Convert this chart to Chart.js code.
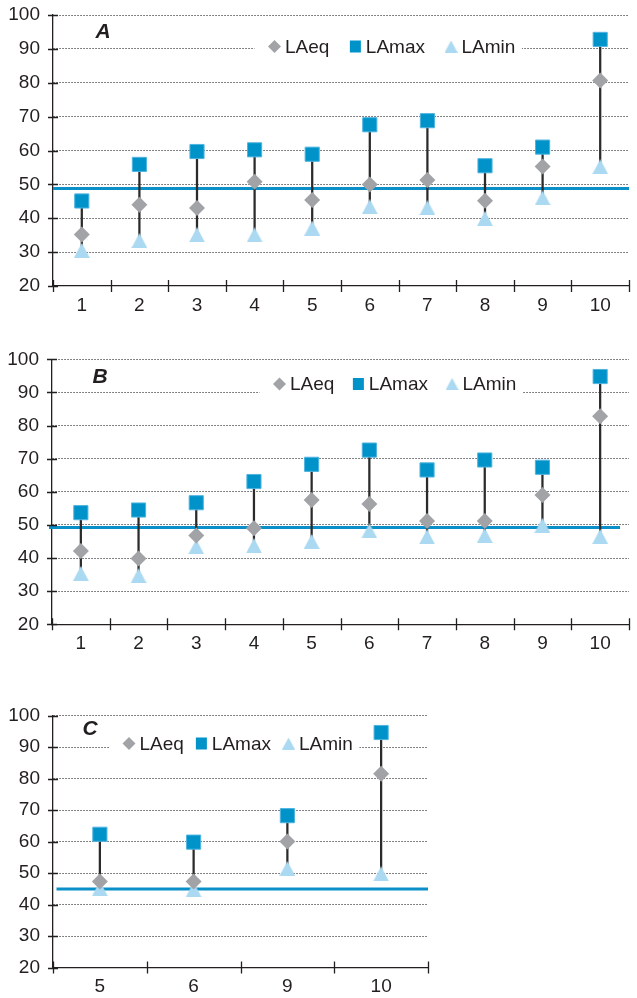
<!DOCTYPE html>
<html>
<head>
<meta charset="utf-8">
<script src="https://cdn.jsdelivr.net/npm/chart.js@4.4.1/dist/chart.umd.min.js"></script>
<style>
  html, body { margin: 0; padding: 0; background: #fff; overflow: hidden; width: 637px; height: 998px; }
  .panel { position: absolute; left: 0; width: 637px; overflow: hidden; }
  canvas { display: block; }
</style>
</head>
<body>
<div class="panel" style="top:0;height:325px"><canvas id="panelA" width="640" height="325"></canvas></div>
<div class="panel" style="top:335px;height:325px"><canvas id="panelB" width="640" height="325"></canvas></div>
<div class="panel" style="top:695px;height:303px"><canvas id="panelC" width="637" height="303"></canvas></div>
<script>
// Measurement sites (panels A and B) and the subset shown in panel C
const sitesAB = ['1', '2', '3', '4', '5', '6', '7', '8', '9', '10'];
const sitesC = ['5', '6', '9', '10'];

// Panel A, dB(A)
const aLAeq = [35.2, 44.0, 43.0, 50.8, 45.4, 50.0, 51.3, 45.2, 55.3, 80.7];
const aLAmax = [45.1, 55.9, 59.7, 60.2, 58.9, 67.6, 68.8, 55.5, 61.0, 92.8];
const aLAmin = [30.5, 33.4, 35.1, 35.1, 37.1, 43.4, 43.1, 39.9, 46.0, 55.2];

// Panel B, dB(A)
const bLAeq = [42.1, 39.9, 46.8, 49.0, 57.5, 56.3, 51.2, 51.2, 59.0, 82.8];
const bLAmax = [53.7, 54.5, 56.7, 63.1, 68.3, 72.6, 66.6, 69.6, 67.4, 94.8];
const bLAmin = [35.3, 34.7, 43.4, 43.7, 45.0, 48.2, 46.4, 46.8, 49.9, 46.5];

// Panel C, dB(A)
const cLAeq = [47.3, 47.3, 60.0, 81.5];
const cLAmax = [62.3, 59.8, 68.2, 94.6];
const cLAmin = [45.0, 44.7, 51.4, 49.7];

// Reference level drawn across each panel
const limitLevels = [48.8, 49.2, 44.9];

const seriesNames = ['LAeq', 'LAmax', 'LAmin'];
const panelTitles = ['A', 'B', 'C'];
const yMin = 20, yMax = 100, yStep = 10;

const FONT = '"Liberation Sans", Arial, Helvetica, sans-serif';
const INK = '#231f20';
const EQ_COLOR = '#a1a3a6';
const MAX_COLOR = '#0093c9';
const MAX_EDGE = '#4fb4e0';
const MIN_COLOR = '#aad9f1';
const LIMIT_COLOR = '#0a8fc8';

function triangleMarker(w, h, color) {
  const c = document.createElement('canvas');
  c.width = w; c.height = h;
  const g = c.getContext('2d');
  g.fillStyle = color;
  g.beginPath();
  g.moveTo(w / 2, 0);
  g.lineTo(w, h);
  g.lineTo(0, h);
  g.closePath();
  g.fill();
  return c;
}
const minMarker = triangleMarker(16, 15, MIN_COLOR);
const minLegendMarker = triangleMarker(13, 12, MIN_COLOR);

function drawLegend(chart, o) {
  const ctx = chart.ctx;
  ctx.save();
  ctx.font = '19px ' + FONT;
  ctx.textAlign = 'left';
  ctx.textBaseline = 'middle';
  const items = chart.data.datasets.filter(d => d.label);
  let cx = o.legendX;
  const placed = [];
  items.forEach(d => {
    const w = ctx.measureText(d.label).width;
    placed.push({ d, cx, w });
    cx = cx + 11 + w + o.legendGap;
  });
  const last = placed[placed.length - 1];
  const bgLeft = o.legendX - 20;
  ctx.fillStyle = '#fff';
  ctx.fillRect(bgLeft, o.legendY - 11, last.cx + 11 + last.w + 6 - bgLeft, 22);
  placed.forEach(p => {
    const y = o.legendY;
    if (p.d.label === seriesNames[0]) {
      ctx.fillStyle = EQ_COLOR;
      ctx.beginPath();
      ctx.moveTo(p.cx, y - 6.5); ctx.lineTo(p.cx + 6.5, y);
      ctx.lineTo(p.cx, y + 6.5); ctx.lineTo(p.cx - 6.5, y);
      ctx.closePath(); ctx.fill();
    } else if (p.d.label === seriesNames[1]) {
      ctx.fillStyle = MAX_COLOR;
      ctx.fillRect(p.cx - 5.5, y - 6, 11, 12);
    } else {
      ctx.drawImage(minLegendMarker, p.cx - 6.5, y - 6);
    }
    ctx.fillStyle = INK;
    ctx.fillText(p.d.label, p.cx + 10.5, y + 1);
  });
  ctx.restore();
}

// Draws the reference line, the legend, the axis tick marks and the panel letter
const panelDecor = {
  id: 'panelDecor',
  beforeDatasetsDraw(chart, args, o) {
    const { ctx, chartArea: a } = chart;
    const y = chart.scales.y.getPixelForValue(o.limit);
    ctx.save();
    ctx.strokeStyle = LIMIT_COLOR;
    ctx.lineWidth = 3;
    ctx.beginPath();
    ctx.moveTo(a.left + o.lineStart, y);
    ctx.lineTo(a.right + o.lineEnd, y);
    ctx.stroke();
    ctx.restore();
    drawLegend(chart, o);
  },
  afterDraw(chart, args, o) {
    const { ctx, chartArea: a } = chart;
    const xs = chart.scales.x, ys = chart.scales.y;
    ctx.save();
    ctx.strokeStyle = INK;
    ctx.lineWidth = 1.3;
    ctx.beginPath();
    ys.ticks.forEach(t => {
      const y = Math.round(ys.getPixelForValue(t.value)) + 0.5;
      ctx.moveTo(a.left - 5, y);
      ctx.lineTo(a.left + 5, y);
    });
    const n = chart.data.labels.length;
    for (let i = 0; i <= n; i++) {
      const x = Math.round(xs.getPixelForValue(i - 0.5)) + 0.5;
      ctx.moveTo(x, a.bottom - 6);
      ctx.lineTo(x, a.bottom + 6);
    }
    ctx.stroke();

    ctx.fillStyle = INK;
    ctx.font = 'italic bold 21px ' + FONT;
    ctx.textAlign = 'center';
    ctx.textBaseline = 'middle';
    ctx.fillText(o.title, o.titleX, o.titleY);
    ctx.restore();
  }
};

function buildPanel(id, cats, eq, mx, mn, layout) {
  const canvas = document.getElementById(id);
  const H = canvas.height, W = canvas.width;
  const stems = mx.map((v, i) => [mn[i], v]);
  return new Chart(canvas, {
    type: 'bar',
    data: {
      labels: cats,
      datasets: [
        { type: 'line', label: seriesNames[0], data: eq, showLine: false,
          pointStyle: 'rectRot', pointRadius: 8, pointBackgroundColor: EQ_COLOR,
          pointBorderWidth: 0, order: 2 },
        { type: 'line', label: seriesNames[1], data: mx, showLine: false,
          pointStyle: 'rect', pointRadius: 10, pointBackgroundColor: MAX_COLOR,
          pointBorderColor: MAX_EDGE, pointBorderWidth: 1, order: 1 },
        { type: 'line', label: seriesNames[2], data: mn, showLine: false,
          pointStyle: minMarker, pointRadius: 8, order: 3 },
        { type: 'bar', label: '', data: stems, backgroundColor: '#2b2b2b',
          borderWidth: 0, barThickness: 1.6, order: 10 }
      ]
    },
    options: {
      responsive: false,
      animation: false,
      events: [],
      layout: { padding: { top: layout.top, bottom: 0, left: 0, right: W - layout.right } },
      plugins: {
        legend: { display: false },
        tooltip: { enabled: false },
        panelDecor: layout.decor
      },
      scales: {
        x: {
          type: 'category',
          offset: true,
          grid: { display: false, drawTicks: false },
          border: { display: true, color: INK, width: 1.3 },
          ticks: { color: INK, font: { family: FONT, size: 19 }, padding: 8, maxRotation: 0, autoSkip: false },
          afterFit(s) { s.height = H - layout.bottom; s.paddingLeft = 0; s.paddingRight = 0; }
        },
        y: {
          min: yMin, max: yMax,
          grid: {
            drawTicks: false,
            lineWidth: 1,
            color: c => (c.tick && c.tick.value === yMin) ? 'rgba(0,0,0,0)' : '#5a5b5d'
          },
          border: { display: true, color: INK, width: 1.3, dash: [1.5, 1.5] },
          ticks: { stepSize: yStep, color: INK, font: { family: FONT, size: 19 }, padding: 13 },
          afterFit(s) { s.width = layout.left; s.paddingTop = 0; s.paddingBottom = 0; }
        }
      }
    },
    plugins: [panelDecor]
  });
}

buildPanel('panelA', sitesAB, aLAeq, aLAmax, aLAmin, {
  top: 15, bottom: 286, left: 53, right: 639,
  decor: { limit: limitLevels[0], lineStart: 0, lineEnd: 0, title: panelTitles[0],
           titleX: 103, titleY: 32, legendX: 274.5, legendY: 46.5, legendGap: 25.5 }
});
buildPanel('panelB', sitesAB, bLAeq, bLAmax, bLAmin, {
  top: 24.3, bottom: 289.3, left: 52, right: 639,
  decor: { limit: limitLevels[1], lineStart: -3, lineEnd: -9, title: panelTitles[1],
           titleX: 100, titleY: 42.5, legendX: 279.5, legendY: 49, legendGap: 23.5 }
});
buildPanel('panelC', sitesC, cLAeq, cLAmax, cLAmin, {
  top: 20.5, bottom: 272.5, left: 53, right: 428,
  decor: { limit: limitLevels[2], lineStart: 3.5, lineEnd: 0, title: panelTitles[2],
           titleX: 90, titleY: 34, legendX: 129, legendY: 48.5, legendGap: 17 }
});
</script>
</body>
</html>
